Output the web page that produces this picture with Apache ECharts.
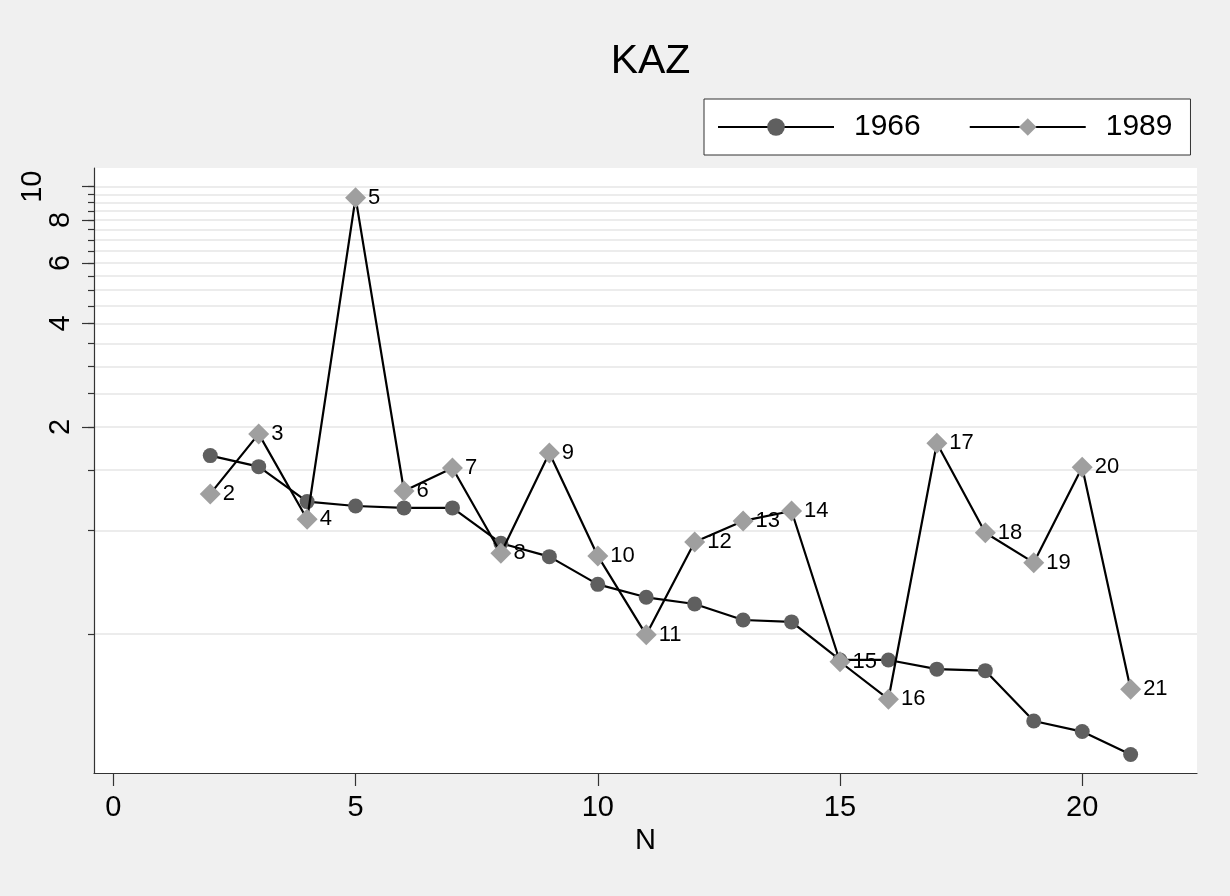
<!DOCTYPE html>
<html>
<head>
<meta charset="utf-8">
<script src="https://cdn.jsdelivr.net/npm/echarts@6/dist/echarts.min.js"></script>
<style>
html,body{margin:0;padding:0;background:#f0f0f0;}
#chart{width:1230px;height:896px;}
</style>
</head>
<body>
<div id="chart"></div>
<script>
// ---- data ----
const N = [2, 3, 4, 5, 6, 7, 8, 9, 10, 11, 12, 13, 14, 15, 16, 17, 18, 19, 20, 21];
const v1966 = [1.651, 1.533, 1.213, 1.178, 1.163, 1.163, 0.918, 0.839, 0.697, 0.639, 0.611, 0.549, 0.542, 0.420, 0.420, 0.395, 0.391, 0.279, 0.260, 0.223];
const v1989 = [1.277, 1.909, 1.078, 9.29, 1.302, 1.520, 0.858, 1.680, 0.843, 0.497, 0.926, 1.066, 1.139, 0.415, 0.323, 1.793, 0.985, 0.806, 1.527, 0.345];
const xTicks = [0, 5, 10, 15, 20];
const yLabelTicks = [2, 4, 6, 8, 10];
const yGridTicks = [0.5, 1, 1.5, 2, 2.5, 3, 3.5, 4, 4.5, 5, 5.5, 6, 6.5, 7, 7.5, 8, 8.5, 9, 9.5, 10];
const seriesNames = ['1966', '1989'];
const titleText = 'KAZ';
const xName = 'N';

const d1966 = N.map((n, i) => [n, v1966[i]]);
const d1989 = N.map((n, i) => [n, v1989[i]]);

const FONT = '"Liberation Sans", Arial, Helvetica, sans-serif';
const chart = echarts.init(document.getElementById('chart'));
const yMin = 0.197, yMax = 11.33;

chart.setOption({
  backgroundColor: '#f0f0f0',
  animation: false,
  textStyle: { fontFamily: FONT, color: '#000' },
  title: {
    text: titleText,
    left: 645.5,
    textAlign: 'center',
    top: 36,
    textStyle: { fontFamily: FONT, fontSize: 41, fontWeight: 'normal', color: '#000' }
  },
  legend: {
    left: 704,
    top: 99,
    orient: 'horizontal',
    backgroundColor: '#fff',
    borderColor: '#333',
    borderWidth: 1,
    borderRadius: 0,
    padding: [13, 18, 13, 13],
    itemWidth: 116,
    itemHeight: 22,
    itemGap: 48,
    textStyle: { fontFamily: FONT, fontSize: 30, color: '#000', padding: [0, 0, 0, 15] },
    data: seriesNames
  },
  grid: {
    left: 94, right: 33, top: 168, bottom: 123,
    show: true, backgroundColor: '#fff', borderWidth: 0,
    containLabel: false
  },
  xAxis: {
    type: 'value',
    min: -0.4,
    max: 22.37,
    name: xName,
    nameLocation: 'middle',
    nameGap: 52,
    nameTextStyle: { fontFamily: FONT, fontSize: 29, color: '#000' },
    axisLine: { show: true, onZero: false, lineStyle: { color: '#333', width: 1.2 } },
    axisTick: { show: true, length: 13, customValues: xTicks, lineStyle: { color: '#333', width: 1.2 } },
    axisLabel: { customValues: xTicks, fontFamily: FONT, fontSize: 29, color: '#000', margin: 20 },
    splitLine: { show: false }
  },
  yAxis: [
    {
      type: 'log',
      logBase: 10,
      min: yMin,
      max: yMax,
      position: 'left',
      axisLine: { show: true, onZero: false, lineStyle: { color: '#333', width: 1.2 } },
      axisTick: { show: true, length: 6, customValues: yGridTicks, lineStyle: { color: '#333', width: 1.2 } },
      axisLabel: { show: false },
      splitLine: { show: true, lineStyle: { color: '#e6e6e6', width: 1.7 } },
      minorTick: { show: false },
      minorSplitLine: { show: false }
    },
    {
      type: 'log',
      logBase: 10,
      min: yMin,
      max: yMax,
      position: 'left',
      offset: 0,
      axisLine: { show: false, onZero: false },
      axisTick: { show: true, length: 12, customValues: yLabelTicks, lineStyle: { color: '#333', width: 1.2 } },
      axisLabel: {
        customValues: yLabelTicks,
        rotate: 90,
        margin: 19,
        fontFamily: FONT,
        fontSize: 29,
        color: '#000',
        formatter: function (v) { return v === 10 ? '{t|10}' : String(v); },
        rich: { t: { fontFamily: FONT, fontSize: 29, color: '#000', padding: [0, 0, 28, 0] } }
      },
      splitLine: { show: false }
    }
  ],
  series: [
    {
      name: seriesNames[0],
      type: 'line',
      data: d1966,
      yAxisIndex: 0,
      symbol: 'circle',
      symbolSize: 15,
      lineStyle: { color: '#000', width: 2.2 },
      itemStyle: { color: '#5f5f5f', borderWidth: 0 },
      z: 2
    },
    {
      name: seriesNames[1],
      type: 'line',
      data: d1989,
      yAxisIndex: 0,
      symbol: 'diamond',
      symbolSize: 21,
      lineStyle: { color: '#000', width: 2.2 },
      itemStyle: { color: '#9f9f9f', borderWidth: 0 },
      label: {
        show: true,
        position: 'right',
        distance: 2,
        fontFamily: FONT,
        fontSize: 22,
        color: '#000',
        formatter: function (p) { return String(p.data[0]); }
      },
      z: 3
    }
  ]
});
</script>
</body>
</html>
